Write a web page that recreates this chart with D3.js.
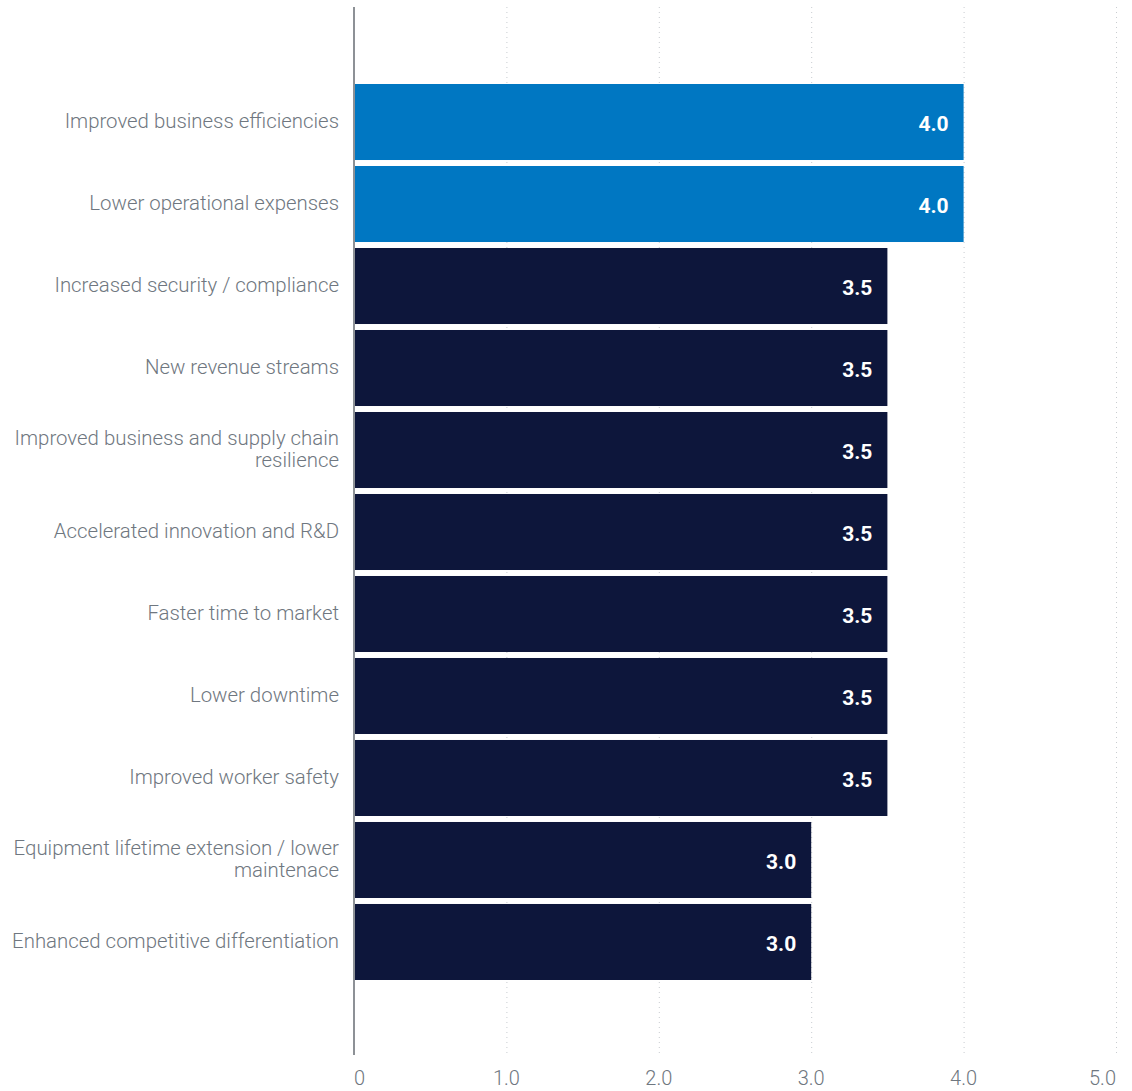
<!DOCTYPE html>
<html>
<head>
<meta charset="utf-8">
<script src="https://cdn.jsdelivr.net/npm/d3@7"></script>
<style>
  html, body { margin: 0; padding: 0; background: #ffffff; }
  svg { display: block; }
  text { font-family: Roboto, "Noto Sans", sans-serif; }
</style>
</head>
<body>
<svg id="chart" width="1132" height="1091"></svg>
<script>
// Benefit categories, top to bottom
const categories = [
  "Improved business efficiencies",
  "Lower operational expenses",
  "Increased security / compliance",
  "New revenue streams",
  "Improved business and supply chain resilience",
  "Accelerated innovation and R&D",
  "Faster time to market",
  "Lower downtime",
  "Improved worker safety",
  "Equipment lifetime extension / lower maintenace",
  "Enhanced competitive differentiation"
];
// Average score per category
const values = [4.0, 4.0, 3.5, 3.5, 3.5, 3.5, 3.5, 3.5, 3.5, 3.0, 3.0];
// Top-ranked categories are highlighted
const highlighted = [true, true, false, false, false, false, false, false, false, false, false];
// Label line breaks for long categories
const labelLines = {
  "Improved business and supply chain resilience": ["Improved business and supply chain", "resilience"],
  "Equipment lifetime extension / lower maintenace": ["Equipment lifetime extension / lower", "maintenace"]
};
const xTicks = [0, 1, 2, 3, 4, 5];
const xTickLabels = ["0", "1.0", "2.0", "3.0", "4.0", "5.0"];

(function draw() {
  const svg = d3.select("#chart");
  const plotLeft = 354, plotRight = 1116, plotTop = 7, plotBottom = 1055;
  const labelSize = 20.4;

  const x = d3.scaleLinear().domain([0, 5]).range([plotLeft, plotRight]);
  const y = d3.scaleBand()
    .domain(categories)
    .range([81, 983])
    .paddingInner(0.073)
    .paddingOuter(0.0366);

  // Dotted gridlines
  svg.append("g")
    .selectAll("line")
    .data(xTicks.filter(d => d > 0))
    .join("line")
    .attr("x1", d => x(d) + 0.5).attr("x2", d => x(d) + 0.5)
    .attr("y1", plotTop).attr("y2", plotBottom)
    .attr("stroke", "#c8ccd0")
    .attr("stroke-width", 1)
    .attr("stroke-dasharray", "1,4");

  // Bars
  svg.append("g")
    .selectAll("rect")
    .data(categories)
    .join("rect")
    .attr("x", x(0))
    .attr("y", d => y(d))
    .attr("width", (d, i) => x(values[i]) - x(0))
    .attr("height", y.bandwidth())
    .attr("fill", (d, i) => highlighted[i] ? "#0077c2" : "#0d163b");

  // Value labels inside bars
  svg.append("g")
    .selectAll("text")
    .data(categories)
    .join("text")
    .attr("x", (d, i) => x(values[i]) - 15)
    .attr("y", d => y(d) + y.bandwidth() / 2)
    .attr("dy", "0.42em")
    .attr("text-anchor", "end")
    .attr("fill", "#ffffff")
    .attr("font-weight", 700)
    .attr("font-size", 21)
    .text((d, i) => values[i].toFixed(1));

  // Category labels
  const lab = svg.append("g")
    .selectAll("text")
    .data(categories)
    .join("text")
    .attr("text-anchor", "end")
    .attr("fill", "#6f7780")
    .attr("font-weight", 300)
    .attr("font-size", labelSize)
    .attr("x", 339)
    .attr("y", d => y(d) + y.bandwidth() / 2);

  lab.each(function(d) {
    const lines = labelLines[d] || [d];
    const t = d3.select(this);
    const lh = 22;
    lines.forEach((ln, k) => {
      t.append("tspan")
        .attr("x", 339)
        .attr("dy", k === 0 ? (0.3 * labelSize - (lines.length - 1) * lh / 2) + "px" : lh + "px")
        .text(ln);
    });
  });

  // Vertical axis line
  svg.append("line")
    .attr("x1", plotLeft).attr("x2", plotLeft)
    .attr("y1", plotTop).attr("y2", plotBottom)
    .attr("stroke", "#8d9196")
    .attr("stroke-width", 2);

  // X tick labels
  svg.append("g")
    .selectAll("text")
    .data(xTicks)
    .join("text")
    .attr("x", d => x(d))
    .attr("y", 1078)
    .attr("dy", "0.35em")
    .attr("text-anchor", (d, i) => i === 0 ? "start" : (i === xTicks.length - 1 ? "end" : "middle"))
    .attr("fill", "#6f7780")
    .attr("font-weight", 300)
    .attr("font-size", 20)
    .text((d, i) => xTickLabels[i]);
})();
</script>
</body>
</html>
